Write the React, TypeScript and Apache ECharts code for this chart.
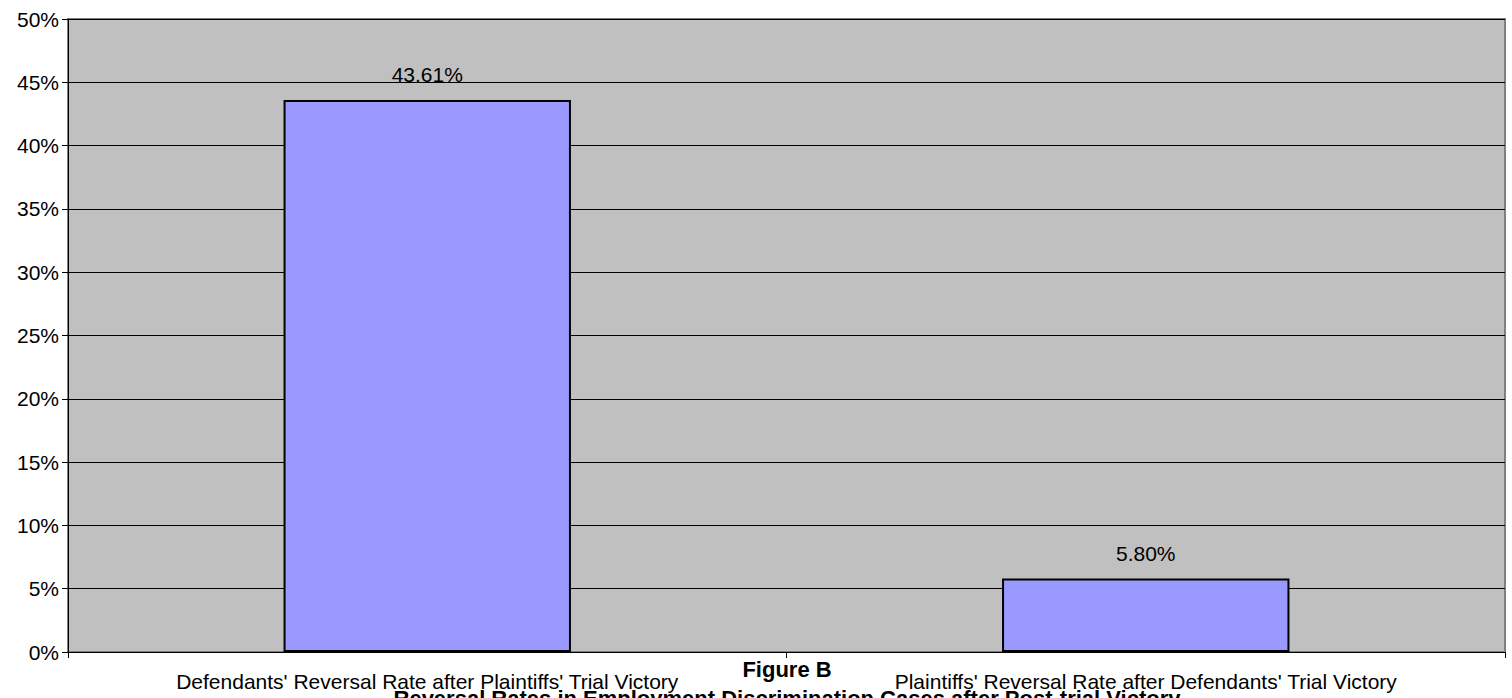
import React, { useEffect, useRef } from "react";
import * as echarts from "echarts";

const categories = [
  "Defendants' Reversal Rate after Plaintiffs' Trial Victory",
  "Plaintiffs' Reversal Rate after Defendants' Trial Victory",
];
const values = [43.61, 5.8];
const yTicks = { min: 0, max: 50, interval: 5 };
const titleLines = [
  "Figure B",
  "Reversal Rates in Employment Discrimination Cases after Post-trial Victory",
];

export default function App() {
  const ref = useRef<HTMLDivElement>(null);
  useEffect(() => {
    if (!ref.current) return;
    const chart = echarts.init(ref.current, null, { renderer: "svg" });
    const font = "Liberation Sans, Arial, sans-serif";
    chart.setOption({
      animation: false,
      backgroundColor: "#ffffff",
      grid: {
        left: 68,
        right: 7,
        top: 19,
        bottom: 46,
        show: true,
        backgroundColor: "#c0c0c0",
        borderColor: "#808080",
        borderWidth: 2,
      },
      xAxis: {
        type: "category",
        data: categories,
        boundaryGap: true,
        axisLine: { show: true, lineStyle: { color: "#000", width: 1 } },
        axisTick: { show: true, alignWithLabel: false, length: 6, lineStyle: { color: "#000" } },
        axisLabel: {
          color: "#000",
          fontFamily: font,
          fontSize: 21,
          margin: 19,
          interval: 0,
        },
        splitLine: { show: false },
      },
      yAxis: {
        type: "value",
        min: yTicks.min,
        max: yTicks.max,
        interval: yTicks.interval,
        axisLine: { show: true, lineStyle: { color: "#000", width: 1 } },
        axisTick: { show: true, length: 6, lineStyle: { color: "#000" } },
        axisLabel: {
          color: "#000",
          fontFamily: font,
          fontSize: 21,
          margin: 9,
          formatter: "{value}%",
        },
        splitLine: { show: true, lineStyle: { color: "#000", width: 1 } },
      },
      series: [
        {
          type: "bar",
          data: values,
          barWidth: "40%",
          itemStyle: { color: "#9999ff", borderColor: "#000", borderWidth: 2 },
          label: {
            show: true,
            position: "top",
            distance: 15,
            color: "#000",
            fontFamily: font,
            fontSize: 21,
            formatter: (p: any) => p.value.toFixed(2) + "%",
          },
        },
      ],
      graphic: [
        {
          type: "text",
          x: 787,
          y: 658,
          style: {
            text: titleLines[0],
            fontFamily: font,
            fontSize: 22,
            fontWeight: "bold",
            fill: "#000",
            textAlign: "center",
            textVerticalAlign: "top",
          },
        },
        {
          type: "text",
          x: 787,
          y: 687,
          style: {
            text: titleLines[1],
            fontFamily: font,
            fontSize: 22,
            fontWeight: "bold",
            fill: "#000",
            textAlign: "center",
            textVerticalAlign: "top",
          },
        },
      ],
    });
    return () => chart.dispose();
  }, []);
  return (
    <div
      ref={ref}
      style={{ position: "fixed", left: 0, top: 0, width: 1512, height: 698 }}
    />
  );
}
